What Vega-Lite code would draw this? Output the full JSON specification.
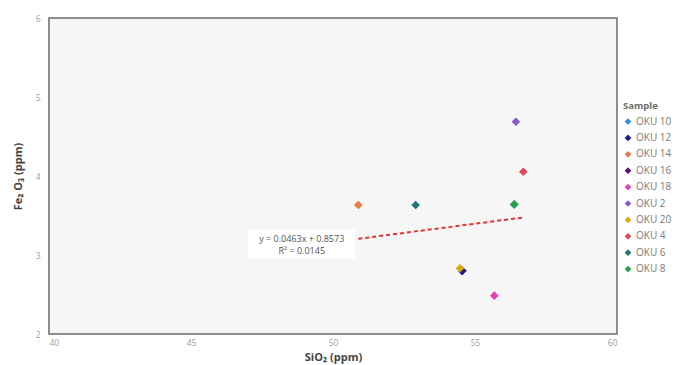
{
  "$schema": "https://vega.github.io/schema/vega-lite/v6.json",
  "width": 568,
  "height": 316,
  "autosize": {"type": "none"},
  "padding": {"left": 49, "top": 18, "right": 62, "bottom": 31},
  "background": "white",
  "config": {
    "font": "Open Sans",
    "view": {"fill": "#f6f6f6", "stroke": "#6b6b6b", "strokeWidth": 1.5},
    "axis": {"grid": false, "ticks": false, "domain": false, "labelColor": "#a0a0a0", "labelFontSize": 8.5, "titleColor": "#444444", "titleFontSize": 11, "titleFontWeight": "bold"}
  },
  "datasets": {
    "points": [
      {"Sample": "OKU 10", "SiO2": 56.38, "Fe2O3": 3.64},
      {"Sample": "OKU 16", "SiO2": 54.55, "Fe2O3": 2.80},
      {"Sample": "OKU 12", "SiO2": 54.55, "Fe2O3": 2.80},
      {"Sample": "OKU 14", "SiO2": 50.89, "Fe2O3": 3.633},
      {"Sample": "OKU 18", "SiO2": 55.68, "Fe2O3": 2.485},
      {"Sample": "OKU 2", "SiO2": 56.44, "Fe2O3": 4.687},
      {"Sample": "OKU 20", "SiO2": 54.47, "Fe2O3": 2.832},
      {"Sample": "OKU 4", "SiO2": 56.70, "Fe2O3": 4.054},
      {"Sample": "OKU 6", "SiO2": 52.91, "Fe2O3": 3.633},
      {"Sample": "OKU 8", "SiO2": 56.38, "Fe2O3": 3.64}
    ],
    "trend": [
      {"SiO2": 50.89, "Fe2O3": 3.205},
      {"SiO2": 56.70, "Fe2O3": 3.475}
    ],
    "box": [
      {"x1": 47.0, "x2": 50.77, "y1": 3.316, "y2": 2.96}
    ],
    "labels": [
      {"SiO2": 48.9, "Fe2O3": 3.20, "label": "y = 0.0463x + 0.8573"},
      {"SiO2": 48.9, "Fe2O3": 3.05, "label": "R² = 0.0145"}
    ]
  },
  "layer": [
    {
      "data": {"name": "box"},
      "mark": {"type": "rect", "fill": "white", "stroke": null},
      "encoding": {
        "x": {"field": "x1", "type": "quantitative", "scale": {"domain": [40, 60], "nice": false}},
        "x2": {"field": "x2"},
        "y": {"field": "y1", "type": "quantitative", "scale": {"domain": [2, 6], "nice": false}},
        "y2": {"field": "y2"}
      }
    },
    {
      "data": {"name": "trend"},
      "mark": {"type": "line", "color": "#e8302e", "strokeDash": [4, 3], "strokeWidth": 2},
      "encoding": {
        "x": {"field": "SiO2", "type": "quantitative"},
        "y": {"field": "Fe2O3", "type": "quantitative"}
      }
    },
    {
      "data": {"name": "points"},
      "mark": {"type": "point", "shape": "diamond", "filled": true, "size": 75, "opacity": 1},
      "encoding": {
        "x": {"field": "SiO2", "type": "quantitative", "scale": {"domain": [40, 60], "nice": false},
          "axis": {"values": [40, 45, 50, 55, 60], "format": "d", "labelPadding": 4, "title": "SiO₂  (ppm)", "titlePadding": 5}},
        "y": {"field": "Fe2O3", "type": "quantitative", "scale": {"domain": [2, 6], "nice": false},
          "axis": {"values": [2, 3, 4, 5, 6], "format": "d", "labelPadding": 9, "title": "Fe₂ O₃  (ppm)", "titlePadding": 12}},
        "color": {
          "field": "Sample", "type": "nominal",
          "scale": {
            "domain": ["OKU 10", "OKU 12", "OKU 14", "OKU 16", "OKU 18", "OKU 2", "OKU 20", "OKU 4", "OKU 6", "OKU 8"],
            "range": ["#2f8fea", "#1c1f8a", "#ea7a45", "#5e0f7c", "#e344b0", "#8658d2", "#d9ad12", "#e0475a", "#23737a", "#27a24a"]
          },
          "legend": {
            "orient": "none", "legendX": 574, "legendY": 83, "padding": 0,
            "title": "Sample", "titleFontSize": 9.5, "titleFontWeight": "bold", "titleColor": "#6a6a6a", "titlePadding": 6,
            "labelFontSize": 10, "labelColor": "#7a7a7a", "labelOffset": 3,
            "symbolType": "diamond", "symbolSize": 45, "symbolStrokeWidth": 0, "rowPadding": 6.4
          }
        }
      }
    },
    {
      "data": {"name": "labels"},
      "mark": {"type": "text", "fontSize": 9, "color": "#555555", "align": "center", "baseline": "middle"},
      "encoding": {
        "x": {"field": "SiO2", "type": "quantitative"},
        "y": {"field": "Fe2O3", "type": "quantitative"},
        "text": {"field": "label"}
      }
    }
  ]
}
